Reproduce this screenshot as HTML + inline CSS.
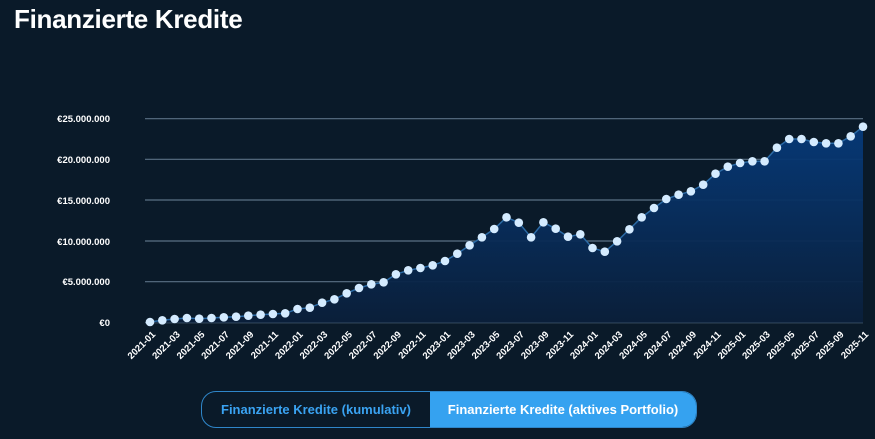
<!DOCTYPE html>
<html><head><meta charset="utf-8"><style>
html,body{margin:0;padding:0;background:#0a1a29;}
body{width:875px;height:439px;overflow:hidden;position:relative;font-family:"Liberation Sans",sans-serif;}
h1{position:absolute;left:14px;top:4px;margin:0;font-size:26px;font-weight:bold;color:#fff;letter-spacing:-0.3px;}
.btns{position:absolute;left:201px;top:391px;width:494px;height:35px;border:1.5px solid #2f86c9;border-radius:15px;overflow:hidden;display:flex;}
.b1{width:228px;color:#3aa3f2;font-weight:bold;font-size:13px;line-height:35px;text-align:center;}
.b2{flex:1;background:#35a2f0;color:#fff;font-weight:bold;font-size:13px;line-height:35px;text-align:center;}
</style></head><body>
<h1>Finanzierte Kredite</h1>
<svg width="875" height="439" style="position:absolute;left:0;top:0">
<defs>
<linearGradient id="g" x1="0" y1="0" x2="0" y2="1">
<stop offset="0" stop-color="#063a7a"/><stop offset="1" stop-color="#0a1f3a"/></linearGradient>
<marker id="m" markerWidth="10" markerHeight="10" refX="5" refY="5" markerUnits="userSpaceOnUse"><circle cx="5" cy="5" r="4.3" fill="#d4ebff"/></marker>
</defs>
<g stroke="#5a7085" stroke-width="1.2">
<line x1="145" y1="118.7" x2="863" y2="118.7"/><line x1="145" y1="159.3" x2="863" y2="159.3"/>
<line x1="145" y1="200" x2="863" y2="200"/><line x1="145" y1="241" x2="863" y2="241"/>
<line x1="145" y1="281.7" x2="863" y2="281.7"/><line x1="145" y1="322.7" x2="863" y2="322.7"/>
</g>
<g font-size="9.5" font-weight="bold" fill="#fff" text-anchor="end">
<text x="110" y="122">€25.000.000</text><text x="110" y="163">€20.000.000</text>
<text x="110" y="204">€15.000.000</text><text x="110" y="245">€10.000.000</text>
<text x="110" y="285">€5.000.000</text><text x="110" y="326">€0</text>
</g>
<polygon fill="url(#g)" opacity="0.95" points="150,322 162.3,320.3 174.6,319 186.9,318 199.2,318.7 211.5,318 223.8,317.3 236.1,316.7 248.3,315.7 260.6,314.7 272.9,314 285.2,313.3 297.5,309 309.8,307.7 322.1,302.7 334.4,299.3 346.7,293.3 359,288 371.3,284.3 383.6,282.3 395.9,274.3 408.2,270.3 420.4,268 432.7,265.3 445,261 457.3,253.7 469.6,245.3 481.9,237.3 494.2,229 506.5,217.3 518.8,222.7 531.1,237.3 543.4,222.3 555.7,228.7 568,236.7 580.3,234.3 592.5,248 604.8,251.7 617.1,241.3 629.4,229.3 641.7,217.3 654,208 666.3,199 678.6,194.7 690.9,191.3 703.2,184.7 715.5,173.7 727.8,166.7 740.1,163 752.4,161.3 764.6,161.3 776.9,147.7 789.2,139 801.5,139 813.8,142 826.1,143.3 838.4,143.3 850.7,136.3 863,126.7 863,322.7 150,322.7"/>
<polyline fill="none" stroke="#2a6aa6" stroke-width="1.5" marker-start="url(#m)" marker-mid="url(#m)" marker-end="url(#m)" points="150,322 162.3,320.3 174.6,319 186.9,318 199.2,318.7 211.5,318 223.8,317.3 236.1,316.7 248.3,315.7 260.6,314.7 272.9,314 285.2,313.3 297.5,309 309.8,307.7 322.1,302.7 334.4,299.3 346.7,293.3 359,288 371.3,284.3 383.6,282.3 395.9,274.3 408.2,270.3 420.4,268 432.7,265.3 445,261 457.3,253.7 469.6,245.3 481.9,237.3 494.2,229 506.5,217.3 518.8,222.7 531.1,237.3 543.4,222.3 555.7,228.7 568,236.7 580.3,234.3 592.5,248 604.8,251.7 617.1,241.3 629.4,229.3 641.7,217.3 654,208 666.3,199 678.6,194.7 690.9,191.3 703.2,184.7 715.5,173.7 727.8,166.7 740.1,163 752.4,161.3 764.6,161.3 776.9,147.7 789.2,139 801.5,139 813.8,142 826.1,143.3 838.4,143.3 850.7,136.3 863,126.7"/>
<g font-size="9.5" font-weight="bold" fill="#fff" text-anchor="end">
<text transform="translate(156,335) rotate(-45)">2021-01</text>
<text transform="translate(180.6,335) rotate(-45)">2021-03</text>
<text transform="translate(205.2,335) rotate(-45)">2021-05</text>
<text transform="translate(229.8,335) rotate(-45)">2021-07</text>
<text transform="translate(254.3,335) rotate(-45)">2021-09</text>
<text transform="translate(278.9,335) rotate(-45)">2021-11</text>
<text transform="translate(303.5,335) rotate(-45)">2022-01</text>
<text transform="translate(328.1,335) rotate(-45)">2022-03</text>
<text transform="translate(352.7,335) rotate(-45)">2022-05</text>
<text transform="translate(377.3,335) rotate(-45)">2022-07</text>
<text transform="translate(401.9,335) rotate(-45)">2022-09</text>
<text transform="translate(426.4,335) rotate(-45)">2022-11</text>
<text transform="translate(451,335) rotate(-45)">2023-01</text>
<text transform="translate(475.6,335) rotate(-45)">2023-03</text>
<text transform="translate(500.2,335) rotate(-45)">2023-05</text>
<text transform="translate(524.8,335) rotate(-45)">2023-07</text>
<text transform="translate(549.4,335) rotate(-45)">2023-09</text>
<text transform="translate(574,335) rotate(-45)">2023-11</text>
<text transform="translate(598.5,335) rotate(-45)">2024-01</text>
<text transform="translate(623.1,335) rotate(-45)">2024-03</text>
<text transform="translate(647.7,335) rotate(-45)">2024-05</text>
<text transform="translate(672.3,335) rotate(-45)">2024-07</text>
<text transform="translate(696.9,335) rotate(-45)">2024-09</text>
<text transform="translate(721.5,335) rotate(-45)">2024-11</text>
<text transform="translate(746.1,335) rotate(-45)">2025-01</text>
<text transform="translate(770.6,335) rotate(-45)">2025-03</text>
<text transform="translate(795.2,335) rotate(-45)">2025-05</text>
<text transform="translate(819.8,335) rotate(-45)">2025-07</text>
<text transform="translate(844.4,335) rotate(-45)">2025-09</text>
<text transform="translate(869,335) rotate(-45)">2025-11</text>
</g>
</svg>
<div class="btns"><div class="b1">Finanzierte Kredite (kumulativ)</div><div class="b2">Finanzierte Kredite (aktives Portfolio)</div></div>
</body></html>
